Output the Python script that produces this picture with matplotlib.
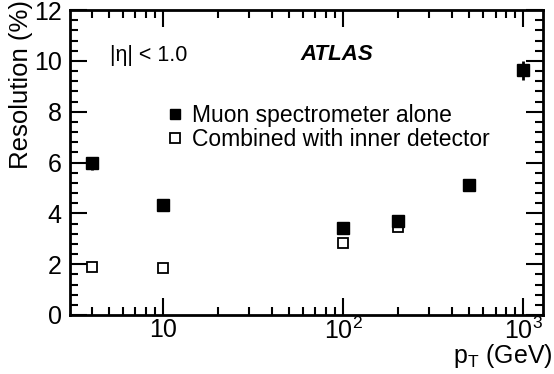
import matplotlib
matplotlib.use("Agg")
import matplotlib.pyplot as plt
from matplotlib.ticker import MultipleLocator, LogLocator, NullFormatter, FixedLocator, FixedFormatter
from matplotlib.lines import Line2D

plt.rcParams['font.family'] = ['Liberation Sans', 'DejaVu Sans']
plt.rcParams['mathtext.fontset'] = 'custom'
plt.rcParams['mathtext.rm'] = 'Liberation Sans'
plt.rcParams['mathtext.it'] = 'Liberation Sans:italic'

pt_ms = [4, 10, 100, 200, 500, 1000]
res_ms = [5.97, 4.32, 3.42, 3.7, 5.12, 9.63]
err_ms = [0.25, 0.08, 0.08, 0.12, 0.22, 0.37]
pt_comb = [4, 10, 100, 200]
res_comb = [1.9, 1.84, 2.85, 3.48]
label_ms = "Muon spectrometer alone"
label_comb = "Combined with inner detector"

fig = plt.figure(figsize=(5.54, 3.74), dpi=100)
ax = fig.add_axes([70/554, 1-315/374, 473/554, 305/374])
ax.set_xscale('log')
ax.set_xlim(3.03, 1285)
ax.set_ylim(0, 12)

ax.errorbar(pt_ms, res_ms, yerr=err_ms, fmt='s', color='black', ms=8, mfc='black',
            mec='black', elinewidth=2, capsize=0, zorder=3)
ax.plot(pt_comb, res_comb, 's', ms=7.5, mfc='white', mec='black', mew=1.3, zorder=3)

ax.yaxis.set_major_locator(MultipleLocator(2))
ax.yaxis.set_minor_locator(MultipleLocator(0.4))
ax.xaxis.set_major_locator(FixedLocator([10, 100, 1000]))
ax.xaxis.set_major_formatter(FixedFormatter(['10', r'$10^2$', r'$10^3$']))
ax.xaxis.set_minor_locator(LogLocator(base=10, subs=range(2, 10), numticks=20))
ax.xaxis.set_minor_formatter(NullFormatter())

ax.tick_params(which='both', direction='in', top=True, right=True, width=1.5, labelsize=18)
ax.tick_params(which='major', length=12)
ax.tick_params(which='minor', length=6)
ax.tick_params(axis='x', which='major', pad=2)
ax.tick_params(axis='y', which='major', pad=6)
for s in ax.spines.values():
    s.set_linewidth(2)

fig.text(21/554, 1.0, "Resolution (%)", fontsize=18.5, rotation=90, ha='center', va='top')
fig.text(553/554, 1-356/374, r"p$_{\mathregular{T}}$ (GeV)", fontsize=18, ha='right', va='center')

fig.text(110/554, 1-55/374, "|η| < 1.0", fontsize=15.5, va='center')
fig.text(337/554, 1-55/374, "ATLAS", fontsize=16, fontweight='bold', fontstyle='italic',
         ha='center', va='center')

handles = [Line2D([], [], ls='none', marker='s', ms=7, mfc='black', mec='black'),
           Line2D([], [], ls='none', marker='s', ms=6.5, mfc='white', mec='black', mew=1.3)]
leg = ax.legend(handles, [label_ms, label_comb], loc='upper left',
                bbox_to_anchor=(168/554, 1-104/374), bbox_transform=fig.transFigure,
                frameon=False, fontsize=16.5, handlelength=0.6, handletextpad=0.45,
                labelspacing=0.05, borderpad=0, borderaxespad=0)

fig.savefig("out.png", dpi=100)
